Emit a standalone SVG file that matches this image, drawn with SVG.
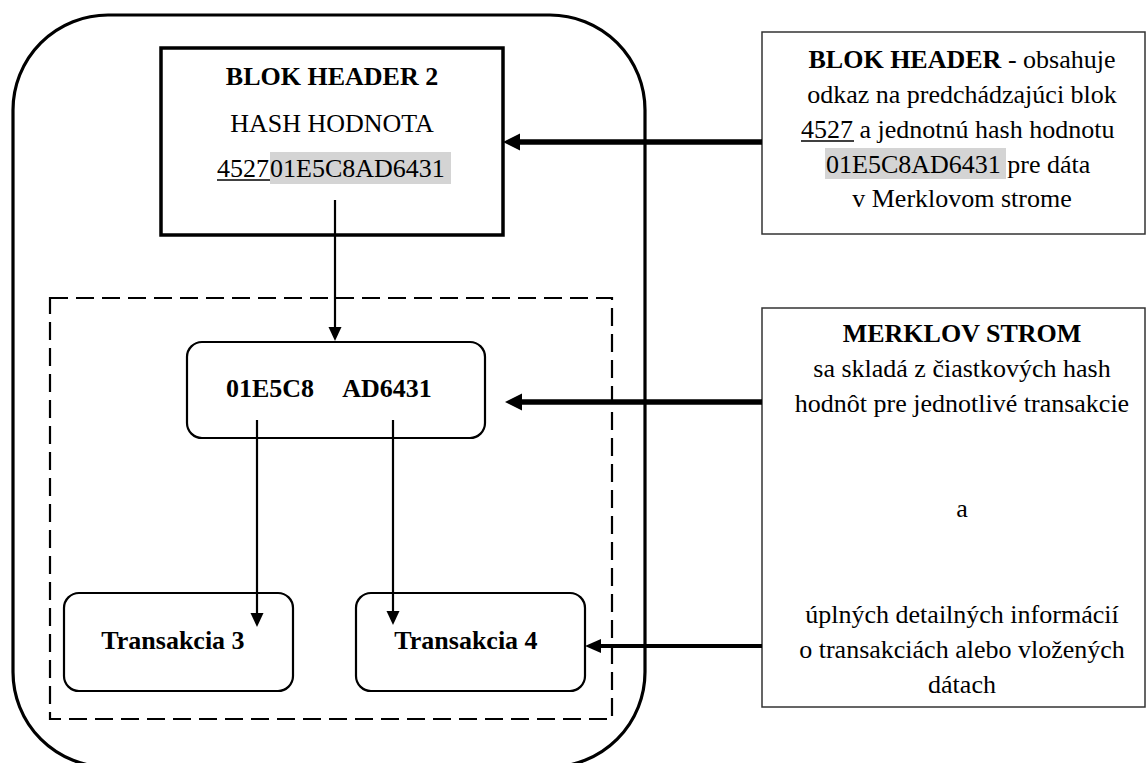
<svg xmlns="http://www.w3.org/2000/svg" width="1147" height="763" viewBox="0 0 1147 763">
  <style>
    text { font-family: "Liberation Serif", "Times New Roman", serif; font-size: 26px; fill: #000; }
    .b { font-weight: bold; }
    .mid { text-anchor: middle; }
    .frame { fill: none; stroke: #000; stroke-width: 3.2; }
    .zone { fill: none; stroke: #000; stroke-width: 2.2; stroke-dasharray: 18 8; }
    .hdr { fill: #fff; stroke: #000; stroke-width: 3.5; }
    .rnd { fill: #fff; stroke: #000; stroke-width: 2.2; }
    .note { fill: #fff; stroke: #333; stroke-width: 1.5; }
    .hl { fill: #d4d4d4; }
    .ul { stroke: #000; stroke-width: 1.6; }
    .thick { stroke: #000; stroke-width: 5.5; fill: none; }
    .mediumw { stroke: #000; stroke-width: 4; fill: none; }
    .thin { stroke: #000; stroke-width: 2.2; fill: none; }
  </style>
  <defs>
    <marker id="headL" markerUnits="userSpaceOnUse" viewBox="0 -9 17 18" markerWidth="17" markerHeight="18" refX="0" refY="0" orient="auto">
      <path d="M0,-8.5 L17,0 L0,8.5 Z" fill="#000"/>
    </marker>
    <marker id="headM" markerUnits="userSpaceOnUse" viewBox="0 -8 16 16" markerWidth="16" markerHeight="16" refX="0" refY="0" orient="auto">
      <path d="M0,-7 L16,0 L0,7 Z" fill="#000"/>
    </marker>
    <marker id="headS" markerUnits="userSpaceOnUse" viewBox="0 -7 14 14" markerWidth="14" markerHeight="14" refX="0" refY="0" orient="auto">
      <path d="M0,-6.5 L14,0 L0,6.5 Z" fill="#000"/>
    </marker>
  </defs>

  <!-- block outline (bottom edge runs just below the canvas) and Merkle tree zone -->
  <g id="block">
    <rect class="frame" x="13" y="15" width="632" height="752" rx="95" ry="95"/>
  </g>
  <g id="merkle-zone">
    <rect class="zone" x="50" y="298" width="562" height="421"/>
  </g>

  <!-- block header -->
  <g id="block-header">
    <rect class="hdr" x="161" y="48" width="342" height="187"/>
    <text class="b mid" x="332" y="85">BLOK HEADER 2</text>
    <text class="mid" x="332" y="132">HASH HODNOTA</text>
    <rect class="hl" x="270" y="152" width="181" height="32"/>
    <text x="217" y="177">4527<tspan x="270">01E5C8AD6431</tspan></text>
    <line class="ul" x1="217" y1="180" x2="270" y2="180"/>
  </g>

  <!-- Merkle root -->
  <g id="merkle-root">
    <rect class="rnd" x="187" y="342" width="298" height="96" rx="15" ry="15"/>
    <text class="b mid" x="270" y="397">01E5C8</text>
    <text class="b mid" x="387" y="397">AD6431</text>
  </g>

  <!-- transactions -->
  <g id="tx3">
    <rect class="rnd" x="64" y="593" width="229" height="98" rx="15" ry="15"/>
    <text class="b mid" x="173" y="649">Transakcia 3</text>
  </g>
  <g id="tx4">
    <rect class="rnd" x="356" y="593" width="229" height="98" rx="15" ry="15"/>
    <text class="b mid" x="466" y="649">Transakcia 4</text>
  </g>

  <!-- explanatory notes -->
  <g id="note-header">
    <rect class="note" x="762" y="32" width="383" height="202"/>
    <text class="mid" x="962" y="68"><tspan class="b">BLOK HEADER</tspan> - obsahuje</text>
    <text class="mid" x="962" y="103">odkaz na predchádzajúci blok</text>
    <text x="801" y="138">4527 a jednotnú hash hodnotu</text>
    <line class="ul" x1="801" y1="141" x2="854" y2="141"/>
    <rect class="hl" x="825" y="148" width="181" height="31"/>
    <text x="826" y="173">01E5C8AD6431 pre dáta</text>
    <text class="mid" x="962" y="207">v Merklovom strome</text>
  </g>
  <g id="note-merkle">
    <rect class="note" x="762" y="308" width="383" height="399"/>
    <text class="b mid" x="962" y="342">MERKLOV STROM</text>
    <text class="mid" x="962" y="377">sa skladá z čiastkových hash</text>
    <text class="mid" x="962" y="412">hodnôt pre jednotlivé transakcie</text>
    <text class="mid" x="962" y="517">a</text>
    <text class="mid" x="962" y="623">úplných detailných informácií</text>
    <text class="mid" x="962" y="658">o transakciách alebo vložených</text>
    <text class="mid" x="962" y="693">dátach</text>
  </g>

  <!-- connectors -->
  <g id="connectors">
    <line class="thick" x1="762" y1="142" x2="520" y2="142" marker-end="url(#headL)"/>
    <line class="thick" x1="762" y1="402" x2="522" y2="402" marker-end="url(#headL)"/>
    <line class="mediumw" x1="762" y1="646" x2="601" y2="646" marker-end="url(#headM)"/>
    <line class="thin" x1="335" y1="200" x2="335" y2="327" marker-end="url(#headS)"/>
    <line class="thin" x1="257" y1="420" x2="257" y2="613" marker-end="url(#headS)"/>
    <line class="thin" x1="393" y1="420" x2="393" y2="611" marker-end="url(#headS)"/>
  </g>
</svg>
